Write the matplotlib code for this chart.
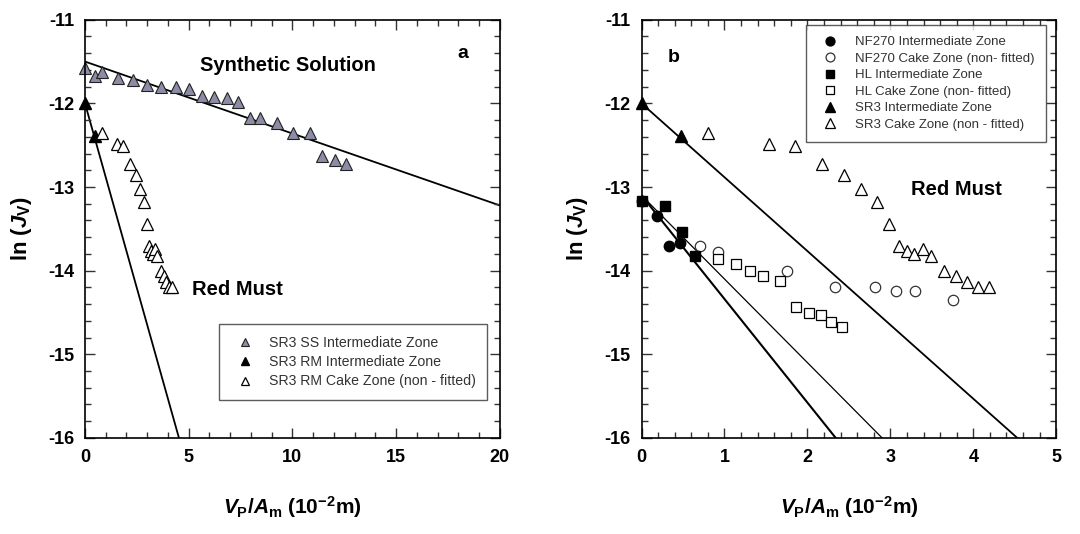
import matplotlib
matplotlib.use('Agg')
from matplotlib import pyplot as plt
from matplotlib.ticker import MultipleLocator
import numpy as np

plt.rcParams['font.family'] = ['Liberation Sans', 'DejaVu Sans']
plt.rcParams['axes.unicode_minus'] = False
plt.rcParams['mathtext.fontset'] = 'custom'
plt.rcParams['mathtext.rm'] = 'Liberation Sans:bold'
plt.rcParams['mathtext.bf'] = 'Liberation Sans:bold'
plt.rcParams['mathtext.it'] = 'Liberation Sans:italic:bold'

# panel a: synthetic solution (SS) and red must (RM) on SR3
ss_x = [0.0, 0.48, 0.80, 1.61, 2.30, 2.97, 3.66, 4.37, 5.01, 5.62, 6.22,
        6.83, 7.39, 7.95, 8.43, 9.24, 10.04, 10.84, 11.45, 12.05, 12.61]
ss_y = [-11.58, -11.67, -11.63, -11.70, -11.72, -11.78, -11.81, -11.80, -11.83,
        -11.91, -11.92, -11.94, -11.98, -12.18, -12.18, -12.24, -12.36, -12.36,
        -12.63, -12.68, -12.73]

# SR3 red must, intermediate and cake zone (same data in both panels)
sr3_int_x = [0.0, 0.47]
sr3_int_y = [-12.0, -12.39]
sr3_cake_x = [0.80, 1.54, 1.85, 2.17, 2.44, 2.65, 2.84, 2.98, 3.10, 3.20, 3.29,
              3.39, 3.49, 3.65, 3.79, 3.93, 4.06, 4.19]
sr3_cake_y = [-12.35, -12.48, -12.51, -12.73, -12.86, -13.02, -13.18, -13.44,
              -13.71, -13.77, -13.80, -13.74, -13.82, -14.01, -14.07, -14.14,
              -14.20, -14.20]

# panel b: NF270 and HL
nf_int_x = [0.0, 0.19, 0.33, 0.46]
nf_int_y = [-13.17, -13.35, -13.70, -13.67]
nf_cake_x = [0.70, 0.92, 1.75, 2.33, 2.82, 3.07, 3.30, 3.75]
nf_cake_y = [-13.70, -13.78, -14.01, -14.20, -14.20, -14.24, -14.24, -14.35]
hl_int_x = [0.0, 0.28, 0.49, 0.65]
hl_int_y = [-13.17, -13.23, -13.54, -13.83]
hl_cake_x = [0.92, 1.14, 1.31, 1.46, 1.67, 1.86, 2.02, 2.16, 2.29, 2.42]
hl_cake_y = [-13.86, -13.92, -14.01, -14.06, -14.12, -14.43, -14.51, -14.53,
             -14.61, -14.67]

# fitted lines: intercept, slope
ss_fit = (-11.5, -0.086)
sr3_fit = (-12.0, -0.883)
nf_fit = (-13.1, -1.239)
hl_fit = (-13.1, -1.0)

ss_color = '#8c8ca6'

fig = plt.figure(figsize=(10.8, 5.34), dpi=100)
ax_a = fig.add_axes([0.0787, 0.180, 0.384, 0.783])
ax_b = fig.add_axes([0.594, 0.180, 0.384, 0.783])


def style(ax, xmax, xmajor, xminor):
    ax.set_xlim(0, xmax)
    ax.set_ylim(-16, -11)
    ax.xaxis.set_major_locator(MultipleLocator(xmajor))
    ax.xaxis.set_minor_locator(MultipleLocator(xminor))
    ax.yaxis.set_major_locator(MultipleLocator(1))
    ax.yaxis.set_minor_locator(MultipleLocator(0.2))
    ax.tick_params(which='both', direction='in', top=True, right=True,
                   labelsize=13, width=1, color='#333333')
    ax.tick_params(which='major', length=7, pad=8)
    ax.tick_params(which='minor', length=4)
    for lab in ax.get_xticklabels() + ax.get_yticklabels():
        lab.set_fontweight('bold')
    for sp in ax.spines.values():
        sp.set_linewidth(1.2)
    ax.set_xlabel(r'$V_\mathrm{P}/A_\mathrm{m}$ (10$^{-2}$m)', fontsize=15,
                  fontweight='bold', labelpad=20)
    ax.set_ylabel(r'ln ($J_\mathrm{V}$)', fontsize=16, fontweight='bold',
                  labelpad=10)


def fit_line(ax, fit, xmax, lw):
    xs = np.array([0, xmax])
    ax.plot(xs, fit[0] + fit[1] * xs, color='black', lw=lw, zorder=1)


def legend(ax, fs, **kw):
    leg = ax.legend(borderaxespad=0, fontsize=fs, fancybox=False,
                    edgecolor='#333333', handlelength=2.0, **kw)
    leg.get_frame().set_linewidth(1.0)
    for t in leg.get_texts():
        t.set_color('#333333')


# panel a
fit_line(ax_a, ss_fit, 20, 1.3)
fit_line(ax_a, sr3_fit, 20, 1.3)
ax_a.plot(ss_x, ss_y, '^', ms=8.5, mfc=ss_color, mec='#222222', mew=0.8,
          clip_on=False, label='SR3 SS Intermediate Zone')
ax_a.plot(sr3_int_x, sr3_int_y, '^', ms=8.5, mfc='black', mec='black',
          clip_on=False, label='SR3 RM Intermediate Zone')
ax_a.plot(sr3_cake_x, sr3_cake_y, '^', ms=8.5, mfc='white', mec='black',
          mew=0.9, clip_on=False, label='SR3 RM Cake Zone (non - fitted)')
style(ax_a, 20, 5, 1)
ax_a.text(9.8, -11.55, 'Synthetic Solution', fontsize=14.5, fontweight='bold',
          ha='center', va='center')
ax_a.text(7.35, -14.23, 'Red Must', fontsize=14.5, fontweight='bold',
          ha='center', va='center')
ax_a.text(18.2, -11.4, 'a', fontsize=14, fontweight='bold',
          ha='center', va='center')
legend(ax_a, 10.2, loc='lower right', bbox_to_anchor=(0.969, 0.091),
       markerscale=0.65, handletextpad=0.7, borderpad=0.8, labelspacing=0.38)

# panel b
fit_line(ax_b, nf_fit, 5, 1.5)
fit_line(ax_b, hl_fit, 5, 0.9)
fit_line(ax_b, sr3_fit, 5, 1.3)
ax_b.plot(nf_int_x, nf_int_y, 'o', ms=7.5, mfc='black', mec='black',
          clip_on=False, label='NF270 Intermediate Zone')
ax_b.plot(nf_cake_x, nf_cake_y, 'o', ms=7.5, mfc='white', mec='#333333',
          mew=0.9, clip_on=False, label='NF270 Cake Zone (non- fitted)')
ax_b.plot(hl_int_x, hl_int_y, 's', ms=7, mfc='black', mec='black',
          clip_on=False, label='HL Intermediate Zone')
ax_b.plot(hl_cake_x, hl_cake_y, 's', ms=7, mfc='white', mec='black',
          mew=0.9, clip_on=False, label='HL Cake Zone (non- fitted)')
ax_b.plot(sr3_int_x, sr3_int_y, '^', ms=8.5, mfc='black', mec='black',
          clip_on=False, label='SR3 Intermediate Zone')
ax_b.plot(sr3_cake_x, sr3_cake_y, '^', ms=8.5, mfc='white', mec='black',
          mew=0.9, clip_on=False, label='SR3 Cake Zone (non - fitted)')
style(ax_b, 5, 1, 0.2)
ax_b.text(3.8, -13.03, 'Red Must', fontsize=14.5, fontweight='bold',
          ha='center', va='center')
ax_b.text(0.39, -11.45, 'b', fontsize=14, fontweight='bold',
          ha='center', va='center')
legend(ax_b, 9.5, loc='upper right', bbox_to_anchor=(0.976, 0.988),
       markerscale=0.85, handletextpad=0.9, borderpad=0.87, labelspacing=0.32)

fig.savefig('out.png', dpi=100)
